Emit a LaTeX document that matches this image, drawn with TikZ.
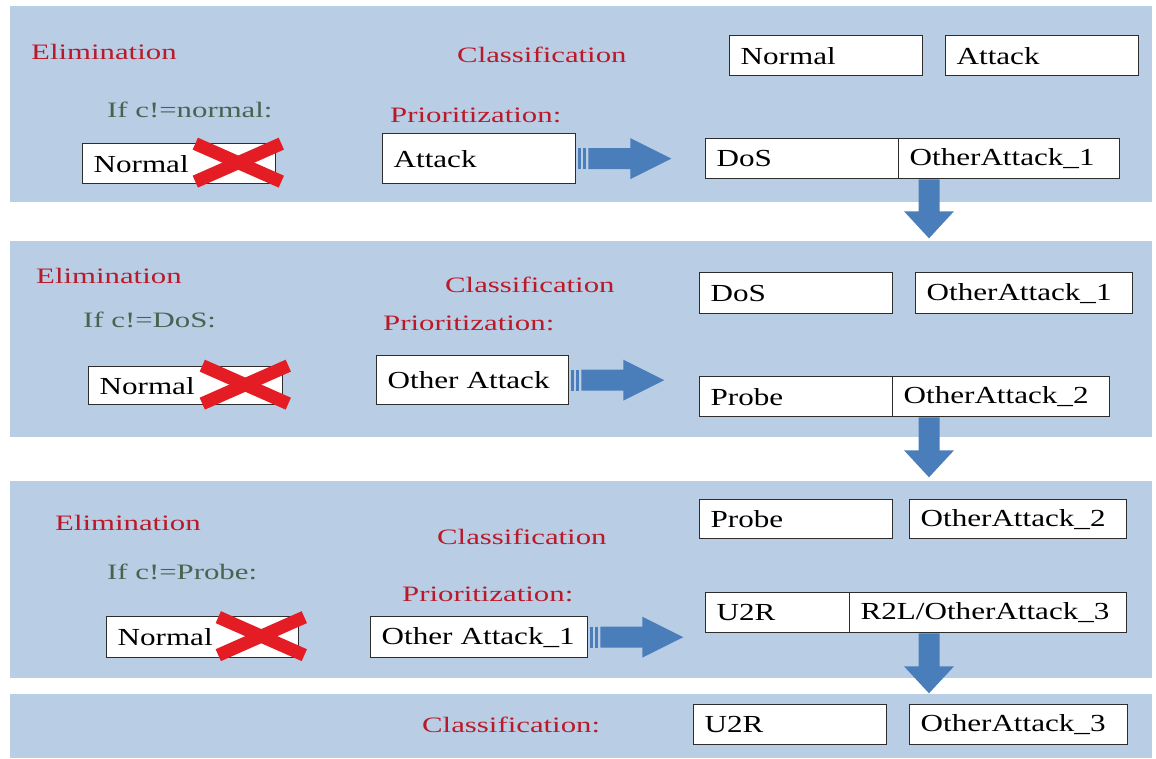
\documentclass[tikz,border=0pt]{standalone}
\usepackage{fontspec}
\setmainfont{Liberation Serif}
\newfontfamily\boxfamily{Liberation Serif}[FakeStretch=1.27]
\newfontfamily\lblfamily{Liberation Serif}[FakeStretch=1.4]
\usepackage{xcolor}
\definecolor{panelblue}{RGB}{185,205,229}
\definecolor{arrowblue}{RGB}{74,126,187}
\definecolor{labelred}{RGB}{185,25,40}
\definecolor{labelgreen}{RGB}{70,100,80}
\definecolor{boxline}{RGB}{45,45,45}
\definecolor{crossred}{RGB}{228,28,36}
\usepackage{tikz}
\usetikzlibrary{calc}
\tikzset{
  cell/.style={draw=boxline,fill=white,line width=1.3pt,anchor=north west,
    inner xsep=11pt,inner ysep=0pt,align=left,font=\boxfamily\fontsize{24.5}{28}\selectfont},
  lbl/.style={anchor=west,inner sep=0pt,font=\lblfamily\fontsize{22}{26}\selectfont,text=labelred},
  cond/.style={lbl,text=labelgreen}}
% name, x, y, width, height, text
\newcommand{\cellbox}[6]{%
  \pgfmathsetmacro{\cellw}{#4-22}
  \node[cell,text width=\cellw pt,minimum height=#5pt] (#1) at (#2,#3) {\mbox{#6}};}
% block arrows: start, tip
\newcommand{\flowright}[2]{%
  \fill[arrowblue] ($(#1)+(12,-10.5)$) -- ($(#2)+(-41,-10.5)$) -- ($(#2)+(-41,-20.5)$) -- (#2)
    -- ($(#2)+(-41,20.5)$) -- ($(#2)+(-41,10.5)$) -- ($(#1)+(12,10.5)$) -- cycle;
  \fill[arrowblue] ($(#1)+(1.5,-10.5)$) rectangle ($(#1)+(4.5,10.5)$);
  \fill[arrowblue] ($(#1)+(6.5,-10.5)$) rectangle ($(#1)+(10,10.5)$);}
\newcommand{\flowdown}[2]{%
  \fill[arrowblue] ($(#1)+(-10.5,0)$) -- ($(#2)+(-10.5,-27)$) -- ($(#2)+(-25,-27)$) -- (#2)
    -- ($(#2)+(25,-27)$) -- ($(#2)+(10.5,-27)$) -- ($(#1)+(10.5,0)$) -- cycle;}
\newcommand{\crossout}[1]{%
  \draw[crossred,line width=13pt] ($(#1.east)+(-81,-20)$) -- ($(#1.east)+(5,18)$);
  \draw[crossred,line width=13pt] ($(#1.east)+(-81,18)$) -- ($(#1.east)+(5,-20)$);}

\begin{document}
\begin{tikzpicture}[x=1pt,y=-1pt]
  \useasboundingbox (0,0) rectangle (1156,758);
  \foreach \ytop/\ybot in {6/202,241/437,481/678,694/758}{\fill[panelblue] (10,\ytop) rectangle (1152,\ybot);}
  \coordinate (axis) at (929,0);

  % stage 1
  \node[lbl] (elim1) at (31,52) {Elimination};
  \node[lbl] (class1) at (457,55) {Classification};
  \node[cond] (cond1) at (107,110) {If c!=normal:};
  \node[lbl] (prio1) at (390,115) {Prioritization:};
  \cellbox{cnorm1}{729}{35}{193}{40}{Normal}
  \cellbox{catt1}{945}{35}{193}{40}{Attack}
  \cellbox{elnorm1}{82}{143}{193}{40}{Normal}
  \cellbox{prbox1}{382}{133}{193}{50}{Attack}
  \cellbox{dos1}{705}{138}{193}{40}{DoS}
  \cellbox{rest1}{898}{138}{221}{40}{OtherAttack\_1}
  \crossout{elnorm1}
  \coordinate (tip1) at ($(prbox1.east)+(95,0)$);
  \flowright{prbox1.east}{tip1}
  \coordinate (drop1) at (rest1.south -| axis);
  \coordinate (land1) at ($(drop1)+(0,59)$);
  \flowdown{drop1}{land1}

  % stage 2
  \node[lbl] (elim2) at (36,276) {Elimination};
  \node[lbl] (class2) at (445,285) {Classification};
  \node[cond] (cond2) at (83,320) {If c!=DoS:};
  \node[lbl] (prio2) at (383,323) {Prioritization:};
  \cellbox{cdos2}{699}{272}{193}{41}{DoS}
  \cellbox{coa2}{915}{272}{217}{41}{OtherAttack\_1}
  \cellbox{elnorm2}{88}{366}{194}{38}{Normal}
  \cellbox{prbox2}{376}{355}{192}{49}{Other Attack}
  \cellbox{probe2}{699}{376}{193}{40}{Probe}
  \cellbox{rest2}{892}{376}{217}{40}{OtherAttack\_2}
  \crossout{elnorm2}
  \coordinate (tip2) at ($(prbox2.east)+(95,0)$);
  \flowright{prbox2.east}{tip2}
  \coordinate (drop2) at (rest2.south -| axis);
  \coordinate (land2) at ($(drop2)+(0,60)$);
  \flowdown{drop2}{land2}

  % stage 3
  \node[lbl] (elim3) at (55,523) {Elimination};
  \node[lbl] (class3) at (437,537) {Classification};
  \node[cond] (cond3) at (107,572) {If c!=Probe:};
  \node[lbl] (prio3) at (402,594) {Prioritization:};
  \cellbox{cprobe3}{699}{499}{193}{39}{Probe}
  \cellbox{coa3}{909}{499}{217}{39}{OtherAttack\_2}
  \cellbox{elnorm3}{106}{616}{192}{41}{Normal}
  \cellbox{prbox3}{370}{616}{217}{41}{Other Attack\_1}
  \cellbox{u2r3}{705}{592}{144}{40}{U2R}
  \cellbox{rest3}{849}{592}{277}{40}{R2L/OtherAttack\_3}
  \crossout{elnorm3}
  \coordinate (tip3) at ($(prbox3.east)+(95,0)$);
  \flowright{prbox3.east}{tip3}
  \coordinate (drop3) at (rest3.south -| axis);
  \coordinate (land3) at ($(drop3)+(0,60)$);
  \flowdown{drop3}{land3}

  % final classification
  \node[lbl] (class4) at (422,725) {Classification:};
  \cellbox{fu2r}{693}{704}{193}{40}{U2R}
  \cellbox{foa}{909}{704}{218}{40}{OtherAttack\_3}
\end{tikzpicture}
\end{document}
